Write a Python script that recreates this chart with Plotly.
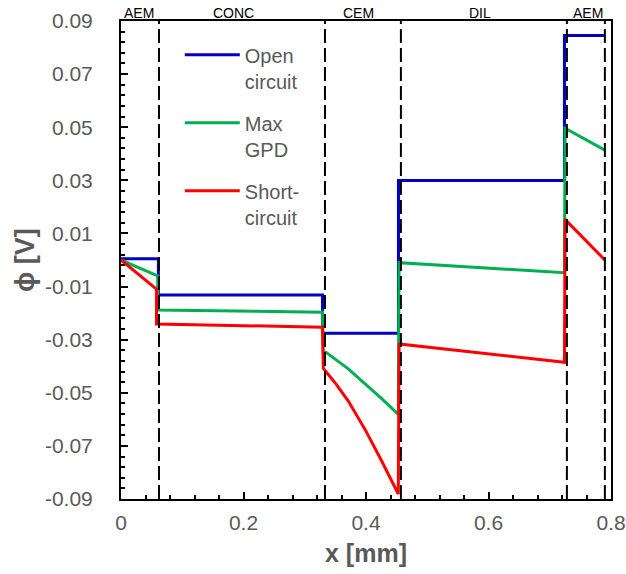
import plotly.graph_objects as go

# ---- data ----
open_x = [0, 0.061, 0.061, 0.329, 0.329, 0.453, 0.453, 0.724, 0.724, 0.790]
open_y = [0.0005, 0.0005, -0.0132, -0.0132, -0.0276, -0.0276, 0.0299, 0.0299, 0.0845, 0.0845]

gpd_x = [0, 0.060, 0.060, 0.329, 0.330, 0.3347, 0.3711, 0.3984, 0.4256, 0.4527, 0.4540, 0.724, 0.725, 0.790]
gpd_y = [0, -0.0060, -0.0188, -0.0197, -0.0345, -0.0348, -0.0410, -0.0465, -0.0522, -0.0581, -0.0010, -0.0048, 0.0496, 0.0414]

short_x = [0, 0.058, 0.058, 0.329, 0.3303, 0.3494, 0.3711, 0.3984, 0.4256, 0.4527, 0.4540, 0.724, 0.725, 0.790]
short_y = [0, -0.0110, -0.0241, -0.0253, -0.0408, -0.0462, -0.0531, -0.0638, -0.0757, -0.0881, -0.0316, -0.0385, 0.0153, 0.0000]

boundaries = [0.062, 0.333, 0.457, 0.728, 0.790]
region_labels = ["AEM", "CONC", "CEM", "DIL", "AEM"]
region_label_x = [0.029, 0.183, 0.387, 0.586, 0.762]

y_tickvals = [0.09, 0.07, 0.05, 0.03, 0.01, -0.01, -0.03, -0.05, -0.07, -0.09]
y_ticktext = ["0.09", "0.07", "0.05", "0.03", "0.01", "-0.01", "-0.03", "-0.05", "-0.07", "-0.09"]
x_tickvals = [0, 0.2, 0.4, 0.6, 0.8]
x_ticktext = ["0", "0.2", "0.4", "0.6", "0.8"]

GRAY = "#595959"
FONT = "Liberation Sans, Arial, sans-serif"

fig = go.Figure()
fig.add_trace(go.Scatter(x=open_x, y=open_y, mode="lines", name="Open<br>circuit", legendgroup="a",
                         line=dict(color="#0000C0", width=3)))
fig.add_trace(go.Scatter(x=gpd_x, y=gpd_y, mode="lines", name="Max<br>GPD", legendgroup="b",
                         line=dict(color="#00B050", width=3)))
fig.add_trace(go.Scatter(x=short_x, y=short_y, mode="lines", name="Short-<br>circuit", legendgroup="c",
                         line=dict(color="#FF0000", width=3)))

for b in boundaries:
    fig.add_shape(type="line", xref="x", yref="y", x0=b, x1=b, y0=-0.09, y1=0.09,
                  line=dict(color="black", width=2, dash="14px,5px"), layer="above")

for lab, lx in zip(region_labels, region_label_x):
    fig.add_annotation(x=lx, xref="x", y=1, yref="paper", yanchor="bottom", text=lab,
                       showarrow=False, font=dict(family=FONT, size=14, color="black"), yshift=-2)

fig.update_layout(
    width=626, height=574,
    margin=dict(l=121, r=15, t=21, b=75, autoexpand=False),
    paper_bgcolor="white", plot_bgcolor="white",
    font=dict(family=FONT, color=GRAY),
    showlegend=True,
    legend=dict(x=0.12, y=0.97, xanchor="left", yanchor="top", bgcolor="rgba(0,0,0,0)",
                font=dict(family=FONT, size=20, color=GRAY), valign="top",
                itemwidth=55, tracegroupgap=13, traceorder="grouped"),
    xaxis=dict(range=[0, 0.8], tickvals=x_tickvals, ticktext=x_ticktext, automargin=False,
               showgrid=False, zeroline=False, showline=True, linecolor="black", linewidth=2,
               mirror=True, ticks="inside", ticklen=7, tickwidth=1.5, tickcolor="black",
               minor=dict(dtick=0.04, tick0=0, ticks="inside", ticklen=4, tickwidth=1.5, tickcolor="black"),
               tickfont=dict(family=FONT, size=21, color=GRAY), ticklabelstandoff=4,
               title=dict(text="<b>x [mm]</b>", font=dict(family=FONT, size=25, color=GRAY), standoff=11)),
    yaxis=dict(range=[-0.09, 0.09], tickvals=y_tickvals, ticktext=y_ticktext, automargin=False,
               showgrid=False, zeroline=False, showline=True, linecolor="black", linewidth=2,
               mirror=True, ticks="inside", ticklen=7, tickwidth=1.5, tickcolor="black",
               minor=dict(dtick=0.004, tick0=0.01, ticks="inside", ticklen=4, tickwidth=1.5, tickcolor="black"),
               tickfont=dict(family=FONT, size=21, color=GRAY), ticklabelstandoff=22,
               title=dict(text="<b>ϕ [V]</b>", font=dict(family=FONT, size=27, color=GRAY), standoff=2)),
)

fig.write_html("out.html")
